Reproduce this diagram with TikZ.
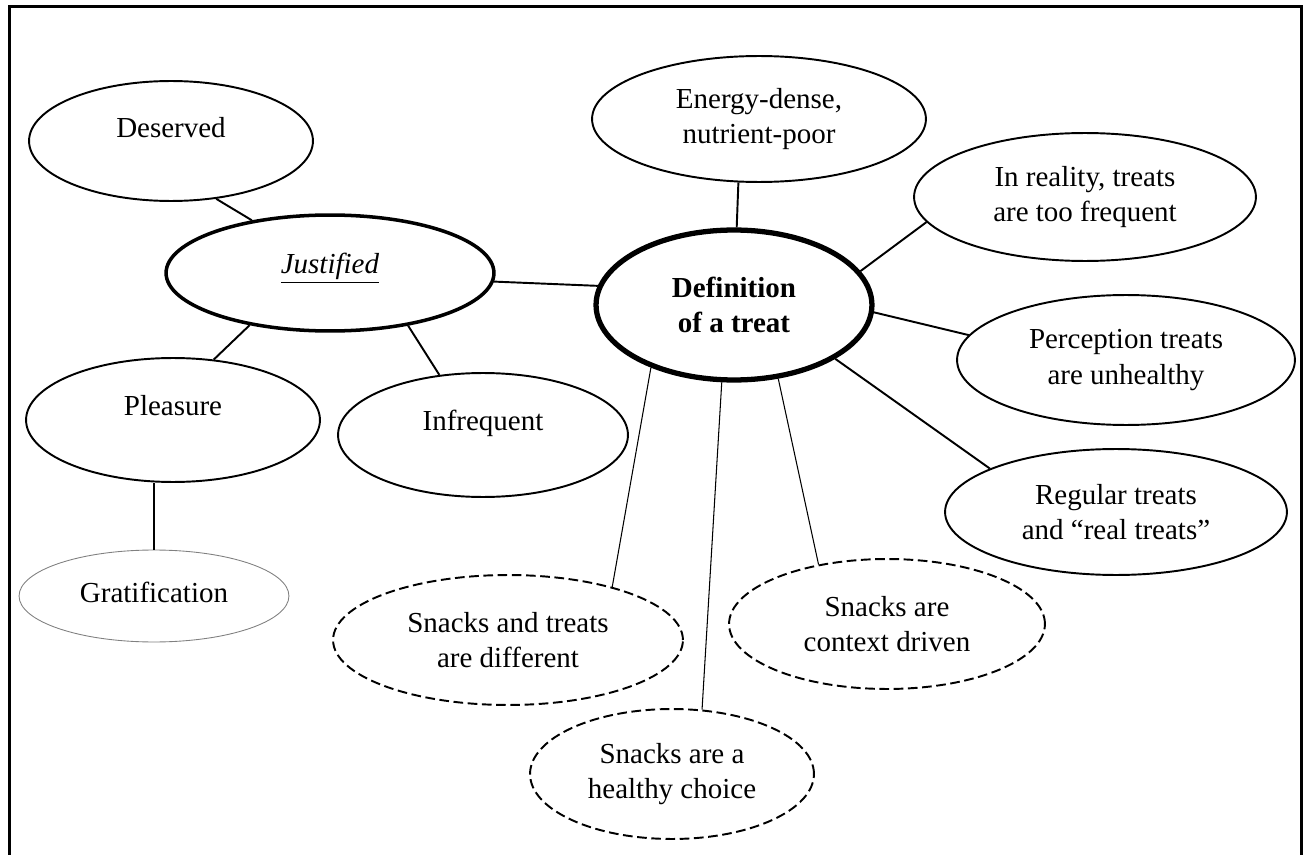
\documentclass[tikz,border=0pt]{standalone}
\usepackage{fontspec}
\setmainfont{Liberation Serif}
\usetikzlibrary{shapes.geometric}
\begin{document}
\begin{tikzpicture}[x=0.02cm,y=-0.02cm,
  bub/.style={ellipse, draw, line width=1.1pt, inner sep=0pt, align=center,
    font=\fontsize{16.5}{20.3}\selectfont},
  rad/.style 2 args={minimum width=#1*0.04cm, minimum height=#2*0.04cm},
  dashbub/.style={bub, dash pattern=on 5.5pt off 2.6pt},
  mainbub/.style={bub, line width=3pt, font=\fontsize{16.5}{20.3}\selectfont\bfseries},
  subbub/.style={bub, line width=2pt},
  faintbub/.style={bub, draw=gray, line width=0.5pt},
  link/.style={line width=1.1pt},
  thinlink/.style={line width=0.6pt},
  frame/.style={line width=1.7pt}
]
\useasboundingbox (0,0) rectangle (1303,855);
% frame (open at the bottom)
\coordinate (fbl) at (9.5,855);
\coordinate (ftl) at (9.5,6.5);
\coordinate (ftr) at (1301.5,6.5);
\coordinate (fbr) at (1301.5,855);
\draw[frame] (fbl) -- (ftl) -- (ftr) -- (fbr);

% nodes
\node[bub, rad={142}{60}, text depth=15pt] (des) at (171,141) {Deserved};
\node[subbub, rad={164}{58}, text depth=11pt] (jus) at (330,273) {\underline{\textit{Justified}}};
\node[bub, rad={147}{62}, text depth=17pt] (ple) at (173,420) {Pleasure};
\node[bub, rad={145}{62}, text depth=17pt] (inf) at (483,435) {Infrequent};
\node[faintbub, rad={135}{46}, text depth=4pt] (gra) at (154,596) {Gratification};
\node[bub, rad={167}{63}] (ene) at (759,119) {Energy-dense,\\nutrient-poor};
\node[mainbub, rad={138}{75}] (def) at (734,305) {Definition\\of a treat};
\node[bub, rad={171}{64}] (rea) at (1085,197) {In reality, treats\\are too frequent};
\node[bub, rad={169}{65}] (per) at (1126,360) {Perception treats\\are unhealthy};
\node[bub, rad={171}{63}] (reg) at (1116,512) {Regular treats\\and “real treats”};
\node[dashbub, rad={175}{65}] (snt) at (508,640) {Snacks and treats\\are different};
\node[dashbub, rad={158}{65}] (ctx) at (887,624) {Snacks are\\context driven};
\node[dashbub, rad={142}{65}] (hea) at (672,774) {Snacks are a\\healthy choice};

% connectors
\draw[link] (des.-52.7) -- (jus.146.5);
\draw[link] (jus.-3.5) -- (def.172.5);
\draw[link] (jus.-147.9) -- (ple.56.1);
\draw[link] (jus.-34.5) -- (inf.126);
\draw[link] (gra.north) -- (gra.north |- ple.south);
\draw[link] (ene.-108) -- (def.88);
\draw[link] (def.15.6) -- (rea.189.3);
\draw[link] (def.-3) -- (per.171.8);
\draw[link] (def.-28.7) -- (reg.161.4);
\draw[thinlink] (def.-143.1) -- (snt.27.2);
\draw[thinlink] (def.-99.1) -- (hea.65.6);
\draw[thinlink] (def.-59.6) -- (ctx.139.6);
\end{tikzpicture}
\end{document}
